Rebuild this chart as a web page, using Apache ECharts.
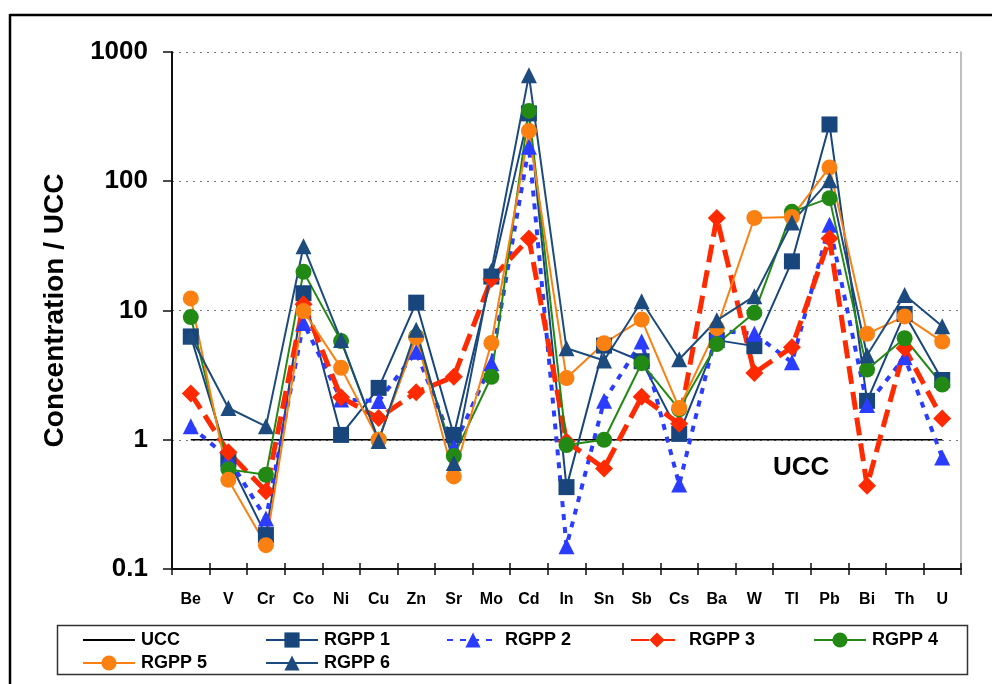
<!DOCTYPE html>
<html>
<head>
<meta charset="utf-8">
<script src="https://cdn.jsdelivr.net/npm/echarts@6/dist/echarts.min.js"></script>
<style>
html,body{margin:0;padding:0;background:#fff;}
#c{width:992px;height:684px;}
</style>
</head>
<body>
<div id="c"></div>
<script>
var categories = ['Be','V','Cr','Co','Ni','Cu','Zn','Sr','Mo','Cd','In','Sn','Sb','Cs','Ba','W','Tl','Pb','Bi','Th','U'];
var ucc   = [1,1,1,1,1,1,1,1,1,1,1,1,1,1,1,1,1,1,1,1,1];
var rgpp1 = [6.3,0.70,0.183,13.6,1.09,2.52,11.5,1.09,18.3,335,0.43,5.35,4.05,1.11,5.9,5.3,24,275,2.0,9.4,2.9];
var rgpp2 = [1.27,0.72,0.246,8.0,2.05,1.99,4.8,0.88,3.9,185,0.15,2.0,5.75,0.45,7.0,6.6,3.97,46,1.86,4.35,0.73];
var rgpp3 = [2.28,0.80,0.40,11.2,2.13,1.47,2.33,3.07,17.5,36,0.97,0.60,2.15,1.33,52,3.29,5.2,36,0.44,5.1,1.46];
var rgpp4 = [8.9,0.59,0.535,19.9,5.8,1.0,6.3,0.75,3.07,350,0.91,1.0,3.91,1.72,5.5,9.6,58,74,3.49,6.1,2.67];
var rgpp5 = [12.4,0.49,0.153,9.9,3.6,1.0,6.2,0.52,5.6,245,3.0,5.58,8.5,1.76,7.3,52,53,128,6.6,9.0,5.75];
var rgpp6 = [6.3,1.76,1.27,31.4,5.9,0.98,7.1,0.66,20.3,660,5.1,4.1,11.8,4.2,8.4,12.9,48,102,4.5,13.2,7.56];

var FONT = '"Liberation Sans", Arial, sans-serif';
var chart = echarts.init(document.getElementById('c'), null, {renderer:'canvas'});

function mk(name, data, color, symbol, size, lw, dash){
  return {
    name: name, type: 'line', data: data, xAxisIndex: 0, yAxisIndex: 0,
    symbol: symbol, symbolSize: size, showSymbol: symbol !== 'none',
    itemStyle: {color: color, borderWidth: 0},
    lineStyle: {color: color, width: lw, type: dash || 'solid', cap: 'butt'},
    emphasis: {disabled: true},
    animation: false
  };
}

function leg(name, left, top, hideSymbol){
  var l = {
    data: [name], left: left, top: top, orient: 'horizontal',
    itemWidth: 52, itemHeight: 19, itemGap: 6, padding: 0,
    selectedMode: false,
    textStyle: {fontFamily: FONT, fontWeight: 'bold', fontSize: 18, color: '#000', padding:[0,0,0,1]}
  };
  if (hideSymbol) { l.itemStyle = {opacity: 0}; }
  return l;
}

var option = {
  animation: false,
  backgroundColor: '#fff',
  grid: {left: 172, right: 31, top: 52, bottom: 115, containLabel: false},
  legend: [
    leg('UCC', 82, 631, true),
    leg('RGPP 1', 265, 631),
    leg('RGPP 2', 446, 631),
    leg('RGPP 3', 630, 631),
    leg('RGPP 4', 813, 631),
    leg('RGPP 5', 82, 654),
    leg('RGPP 6', 265, 654)
  ],
  xAxis: [{
    type: 'category', data: categories, boundaryGap: true,
    axisLine: {show: true, lineStyle: {color: '#111', width: 2}},
    axisTick: {show: true, inside: false, length: 6, lineStyle: {color: '#111', width: 1.5}, alignWithLabel: false},
    axisLabel: {fontFamily: FONT, fontWeight: 'bold', fontSize: 16, color: '#000', margin: 23, interval: 0},
    splitLine: {show: false}
  },{
    type: 'category', data: categories, boundaryGap: true, position: 'bottom',
    axisLine: {show: false},
    axisTick: {show: true, inside: true, length: 6, lineStyle: {color: '#111', width: 1.5}},
    axisLabel: {show: false}, splitLine: {show: false}
  }],
  yAxis: [{
    type: 'log', logBase: 10, min: 0.1, max: 1000,
    axisLine: {show: true, lineStyle: {color: '#111', width: 2}},
    axisTick: {show: true, inside: false, length: 9, lineStyle: {color: '#111', width: 1.5}},
    axisLabel: {fontFamily: FONT, fontWeight: 'bold', fontSize: 26, color: '#000', margin: 24,
      formatter: function(v){ return v < 1 ? v.toFixed(1) : String(Math.round(v)); }},
    splitLine: {show: true, lineStyle: {color: '#777', width: 1, type: [2,5]}},
    name: 'Concentration / UCC', nameLocation: 'middle', nameGap: 103, nameRotate: 90,
    nameTextStyle: {fontFamily: FONT, fontWeight: 'bold', fontSize: 28, color: '#000'}
  },{
    type: 'log', logBase: 10, min: 0.1, max: 1000, position: 'right',
    axisLine: {show: true, lineStyle: {color: '#aaa', width: 1.5}},
    axisTick: {show: false}, axisLabel: {show: false}, splitLine: {show: false}
  }],
  series: [
    mk('UCC', ucc, '#000000', 'none', 0, 1.5),
    mk('RGPP 1', rgpp1, '#17457c', 'rect', 16, 2),
    mk('RGPP 2', rgpp2, '#2a3cff', 'triangle', 16, 4, [6,7]),
    mk('RGPP 3', rgpp3, '#ff2a00', 'diamond', 18, 5, [18,8]),
    mk('RGPP 4', rgpp4, '#228a14', 'circle', 16, 2),
    mk('RGPP 5', rgpp5, '#fa8012', 'circle', 16, 2),
    mk('RGPP 6', rgpp6, '#1d4b7e', 'triangle', 16, 2)
  ],
  graphic: [
    {type: 'line', shape: {x1: 10, y1: 15, x2: 992, y2: 15}, style: {stroke: '#000', lineWidth: 2.5}, silent: true},
    {type: 'line', shape: {x1: 10, y1: 14, x2: 10, y2: 684}, style: {stroke: '#000', lineWidth: 2.5}, silent: true},
    {type: 'rect', shape: {x: 57.5, y: 625.5, width: 910, height: 49}, style: {fill: 'none', stroke: '#333', lineWidth: 1.5}, silent: true, z: -1},
    {type: 'text', left: 773, top: 455, style: {text: 'UCC', fontFamily: FONT, fontWeight: 'bold', fontSize: 26, fill: '#000'}, silent: true}
  ]
};
chart.setOption(option);
</script>
</body>
</html>
